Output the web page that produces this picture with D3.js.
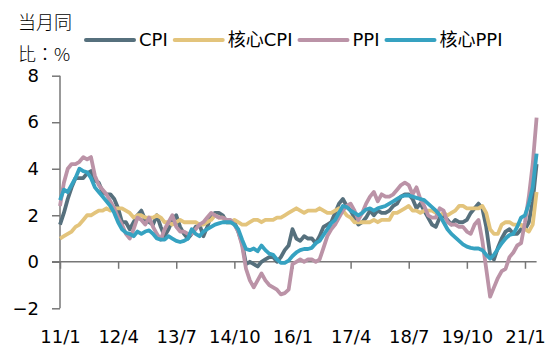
<!DOCTYPE html>
<html lang="zh-Hant">
<head>
<meta charset="UTF-8">
<title>CPI / PPI</title>
<script src="https://cdn.jsdelivr.net/npm/d3@7"></script>
<style>
  body { margin: 0; background: #fff; }
  text { font-family: "DejaVu Sans", "Noto Sans CJK TC", sans-serif; fill: #000; }
  .axis path, .axis line { stroke: #777; stroke-width: 1.5; }
</style>
</head>
<body>
<svg id="chart" width="555" height="354"></svg>
<script>
// monthly, 2011/1 .. 2021/4, YoY %
const cpi = [
  1.6, 2.1, 2.7, 3.2, 3.6, 3.6, 3.6, 3.8, 3.9, 3.5, 3.4, 3.0,
  2.9, 2.9, 2.7, 2.3, 1.7, 1.7, 1.4, 1.7, 2.0, 2.2, 1.8, 1.7,
  1.6, 2.0, 1.5, 1.1, 1.4, 1.8, 2.0, 1.5, 1.2, 1.0, 1.2, 1.5,
  1.6, 1.1, 1.5, 2.0, 2.1, 2.1, 2.0, 1.7, 1.7, 1.7, 1.3, 0.8,
  -0.1, 0.0, -0.1, -0.2, 0.0, 0.1, 0.2, 0.2, 0.0, 0.2, 0.5, 0.7,
  1.4, 1.0, 0.9, 1.1, 1.0, 1.0, 0.8, 1.1, 1.5, 1.6, 1.7, 2.1,
  2.5, 2.7, 2.4, 2.2, 1.9, 1.6, 1.7, 1.9, 2.2, 2.0, 2.2, 2.1,
  2.1, 2.2, 2.4, 2.5, 2.8, 2.9, 2.9, 2.7, 2.3, 2.5, 2.2, 1.9,
  1.6, 1.5, 1.9, 2.0, 1.8, 1.6, 1.8, 1.7, 1.7, 1.8, 2.1, 2.3,
  2.5, 2.3, 1.5, 0.3, 0.1, 0.6, 1.0, 1.3, 1.4, 1.2, 1.2, 1.4,
  1.4, 1.7, 2.6, 4.2
]
const coreCpi = [
  1.0, 1.1, 1.2, 1.3, 1.5, 1.6, 1.8, 2.0, 2.0, 2.1, 2.2, 2.2,
  2.3, 2.2, 2.3, 2.3, 2.3, 2.2, 2.1, 1.9, 2.0, 2.0, 1.9, 1.9,
  1.9, 2.0, 1.9, 1.7, 1.7, 1.6, 1.7, 1.8, 1.7, 1.7, 1.7, 1.7,
  1.6, 1.6, 1.7, 1.8, 2.0, 1.9, 1.9, 1.7, 1.7, 1.8, 1.7, 1.6,
  1.6, 1.7, 1.8, 1.8, 1.7, 1.8, 1.8, 1.8, 1.9, 1.9, 2.0, 2.1,
  2.2, 2.3, 2.2, 2.1, 2.2, 2.2, 2.2, 2.3, 2.2, 2.1, 2.1, 2.2,
  2.3, 2.2, 2.0, 1.9, 1.7, 1.7, 1.7, 1.7, 1.7, 1.8, 1.7, 1.8,
  1.8, 1.8, 2.1, 2.1, 2.2, 2.3, 2.4, 2.2, 2.2, 2.1, 2.2, 2.2,
  2.2, 2.1, 2.0, 2.1, 2.0, 2.1, 2.2, 2.4, 2.4, 2.3, 2.3, 2.3,
  2.3, 2.4, 2.1, 1.4, 1.2, 1.2, 1.6, 1.7, 1.7, 1.6, 1.6, 1.6,
  1.4, 1.3, 1.6, 3.0
]
const ppi = [
  2.4, 3.4, 4.0, 4.2, 4.2, 4.3, 4.5, 4.4, 4.5, 3.7, 3.3, 3.1,
  2.9, 2.6, 2.3, 1.9, 1.6, 1.2, 1.0, 1.4, 1.9, 1.8, 1.6, 1.9,
  1.5, 1.2, 0.95, 1.4, 1.7, 2.0, 1.5, 1.3, 1.3, 1.2, 1.2, 1.4,
  1.6, 1.7, 1.9, 2.1, 2.0, 1.9, 1.9, 1.8, 1.8, 1.6, 1.3, 0.7,
  -0.3, -0.8, -1.1, -0.8, -0.5, -0.8, -1.0, -1.1, -1.2, -1.4, -1.35, -1.2,
  -0.1, 0.0, 0.1, 0.0, 0.1, 0.1, 0.0, 0.1, 0.6, 1.1, 1.4, 1.6,
  1.9, 2.2, 2.4, 2.5, 2.2, 1.8, 2.1, 2.5, 2.8, 3.0, 2.6, 2.9,
  2.8, 2.8, 2.9, 3.1, 3.3, 3.4, 3.3, 2.9, 3.2, 2.7, 2.4, 2.0,
  1.9, 1.9, 2.3, 2.2, 1.7, 1.6, 1.6, 1.5, 1.5, 1.3, 1.2, 1.6,
  1.8, 0.9, -0.3, -1.5, -1.1, -0.7, -0.4, -0.3, 0.2, 0.4, 0.7, 0.8,
  1.7, 2.8, 4.2, 6.2
]
const corePpi = [
  2.65, 3.1, 3.0, 3.3, 3.6, 4.0, 3.9, 3.85, 3.6, 3.2, 3.0, 2.8,
  2.6, 2.4, 2.1, 1.7, 1.4, 1.25, 1.2, 1.1, 1.3, 1.2, 1.3, 1.35,
  1.2, 1.0, 0.95, 0.95, 1.1, 1.0, 0.9, 0.85, 0.9, 1.0, 1.4, 1.2,
  1.1, 1.3, 1.4, 1.5, 1.6, 1.65, 1.7, 1.7, 1.7, 1.6, 1.4, 0.95,
  0.55, 0.5, 0.57, 0.45, 0.7, 0.5, 0.35, 0.3, 0.1, -0.05, -0.05, 0.05,
  0.25, 0.4, 0.5, 0.55, 0.55, 0.6, 0.8, 0.9, 1.15, 1.4, 1.65, 1.8,
  2.1, 2.4, 2.35, 2.2, 2.1, 2.0, 2.1, 2.25, 2.3, 2.2, 2.3, 2.35,
  2.4, 2.5, 2.6, 2.7, 2.8, 2.85, 2.85, 2.8, 2.75, 2.7, 2.65, 2.5,
  2.35, 2.2, 2.0, 1.7, 1.4, 1.2, 1.05, 0.9, 0.75, 0.65, 0.6, 0.57,
  0.57, 0.5, 0.3, 0.14, 0.3, 0.55, 0.8, 1.0, 1.15, 1.2, 1.5, 1.9,
  2.0, 2.5, 3.2, 4.65
]

const seriesNames = ['CPI', '核心CPI', 'PPI', '核心PPI']
const seriesColors = ['#56707d', '#e3c47c', '#bb93a7', '#36a2c1']
const xTicks = ['11/1', '12/4', '13/7', '14/10', '16/1', '17/4', '18/7', '19/10', '21/1']
const yTicks = [-2, 0, 2, 4, 6, 8]

// month labels like "11/1"
const months = []
for (let i = 0; i < cpi.length; i++) {
  months.push(`${11 + Math.floor(i / 12)}/${(i % 12) + 1}`)
}

const svg = d3.select('#chart')
const allSeries = [cpi, coreCpi, ppi, corePpi]

const x = d3.scalePoint().domain(months).range([60, 536.6])
const y = d3.scaleLinear().domain([-2, 8]).range([308.3, 75.7])

// y axis
const yAxis = svg.append('g')
  .attr('class', 'axis')
  .attr('transform', 'translate(60,0)')
  .call(d3.axisLeft(y).tickValues(yTicks).tickSize(8).tickPadding(13).tickSizeOuter(0))
yAxis.select('.domain').attr('d', `M0,${y(8)}V${y(-2)}`)
yAxis.selectAll('text').style('font-size', '18px').attr('fill', '#000')

// x axis at zero, labels at the bottom
const xAxis = svg.append('g')
  .attr('class', 'axis')
  .attr('transform', `translate(0,${y(0)})`)
  .call(d3.axisBottom(x).tickValues(xTicks).tickSize(7).tickSizeOuter(0))
xAxis.select('.domain').attr('d', `M52,0H${x(months[months.length - 1])}`)
xAxis.selectAll('text')
  .style('font-size', '18px')
  .attr('fill', '#000')
  .attr('y', 337 - y(0))
  .attr('dy', '0.35em')

// lines
const line = d3.line()
  .x((d, i) => x(months[i]))
  .y(d => y(d))

svg.append('g').selectAll('path')
  .data(allSeries)
  .join('path')
  .attr('d', line)
  .attr('fill', 'none')
  .attr('stroke', (d, i) => seriesColors[i])
  .attr('stroke-width', 3.8)
  .attr('stroke-linejoin', 'round')

// y title
svg.append('text').attr('x', 18).attr('y', 29).style('font-size', '18px')
  .style('font-family', '"Noto Sans CJK TC"').style('font-weight', 300).text('当月同')
svg.append('text').attr('x', 18).attr('y', 61).style('font-size', '18px')
  .style('font-family', '"Noto Sans CJK TC"').style('font-weight', 300).text('比：%')

// legend
let lx = 86
seriesNames.forEach((name, i) => {
  svg.append('line')
    .attr('x1', lx).attr('x2', lx + 48)
    .attr('y1', 40).attr('y2', 40)
    .attr('stroke', seriesColors[i])
    .attr('stroke-width', 4)
    .attr('stroke-linecap', 'round')
  const t = svg.append('text')
    .attr('x', lx + 53).attr('y', 40)
    .attr('dy', '0.35em')
    .style('font-size', '18px')
    .text(name)
  lx += 53 + t.node().getComputedTextLength() + 7
})
</script>
</body>
</html>
